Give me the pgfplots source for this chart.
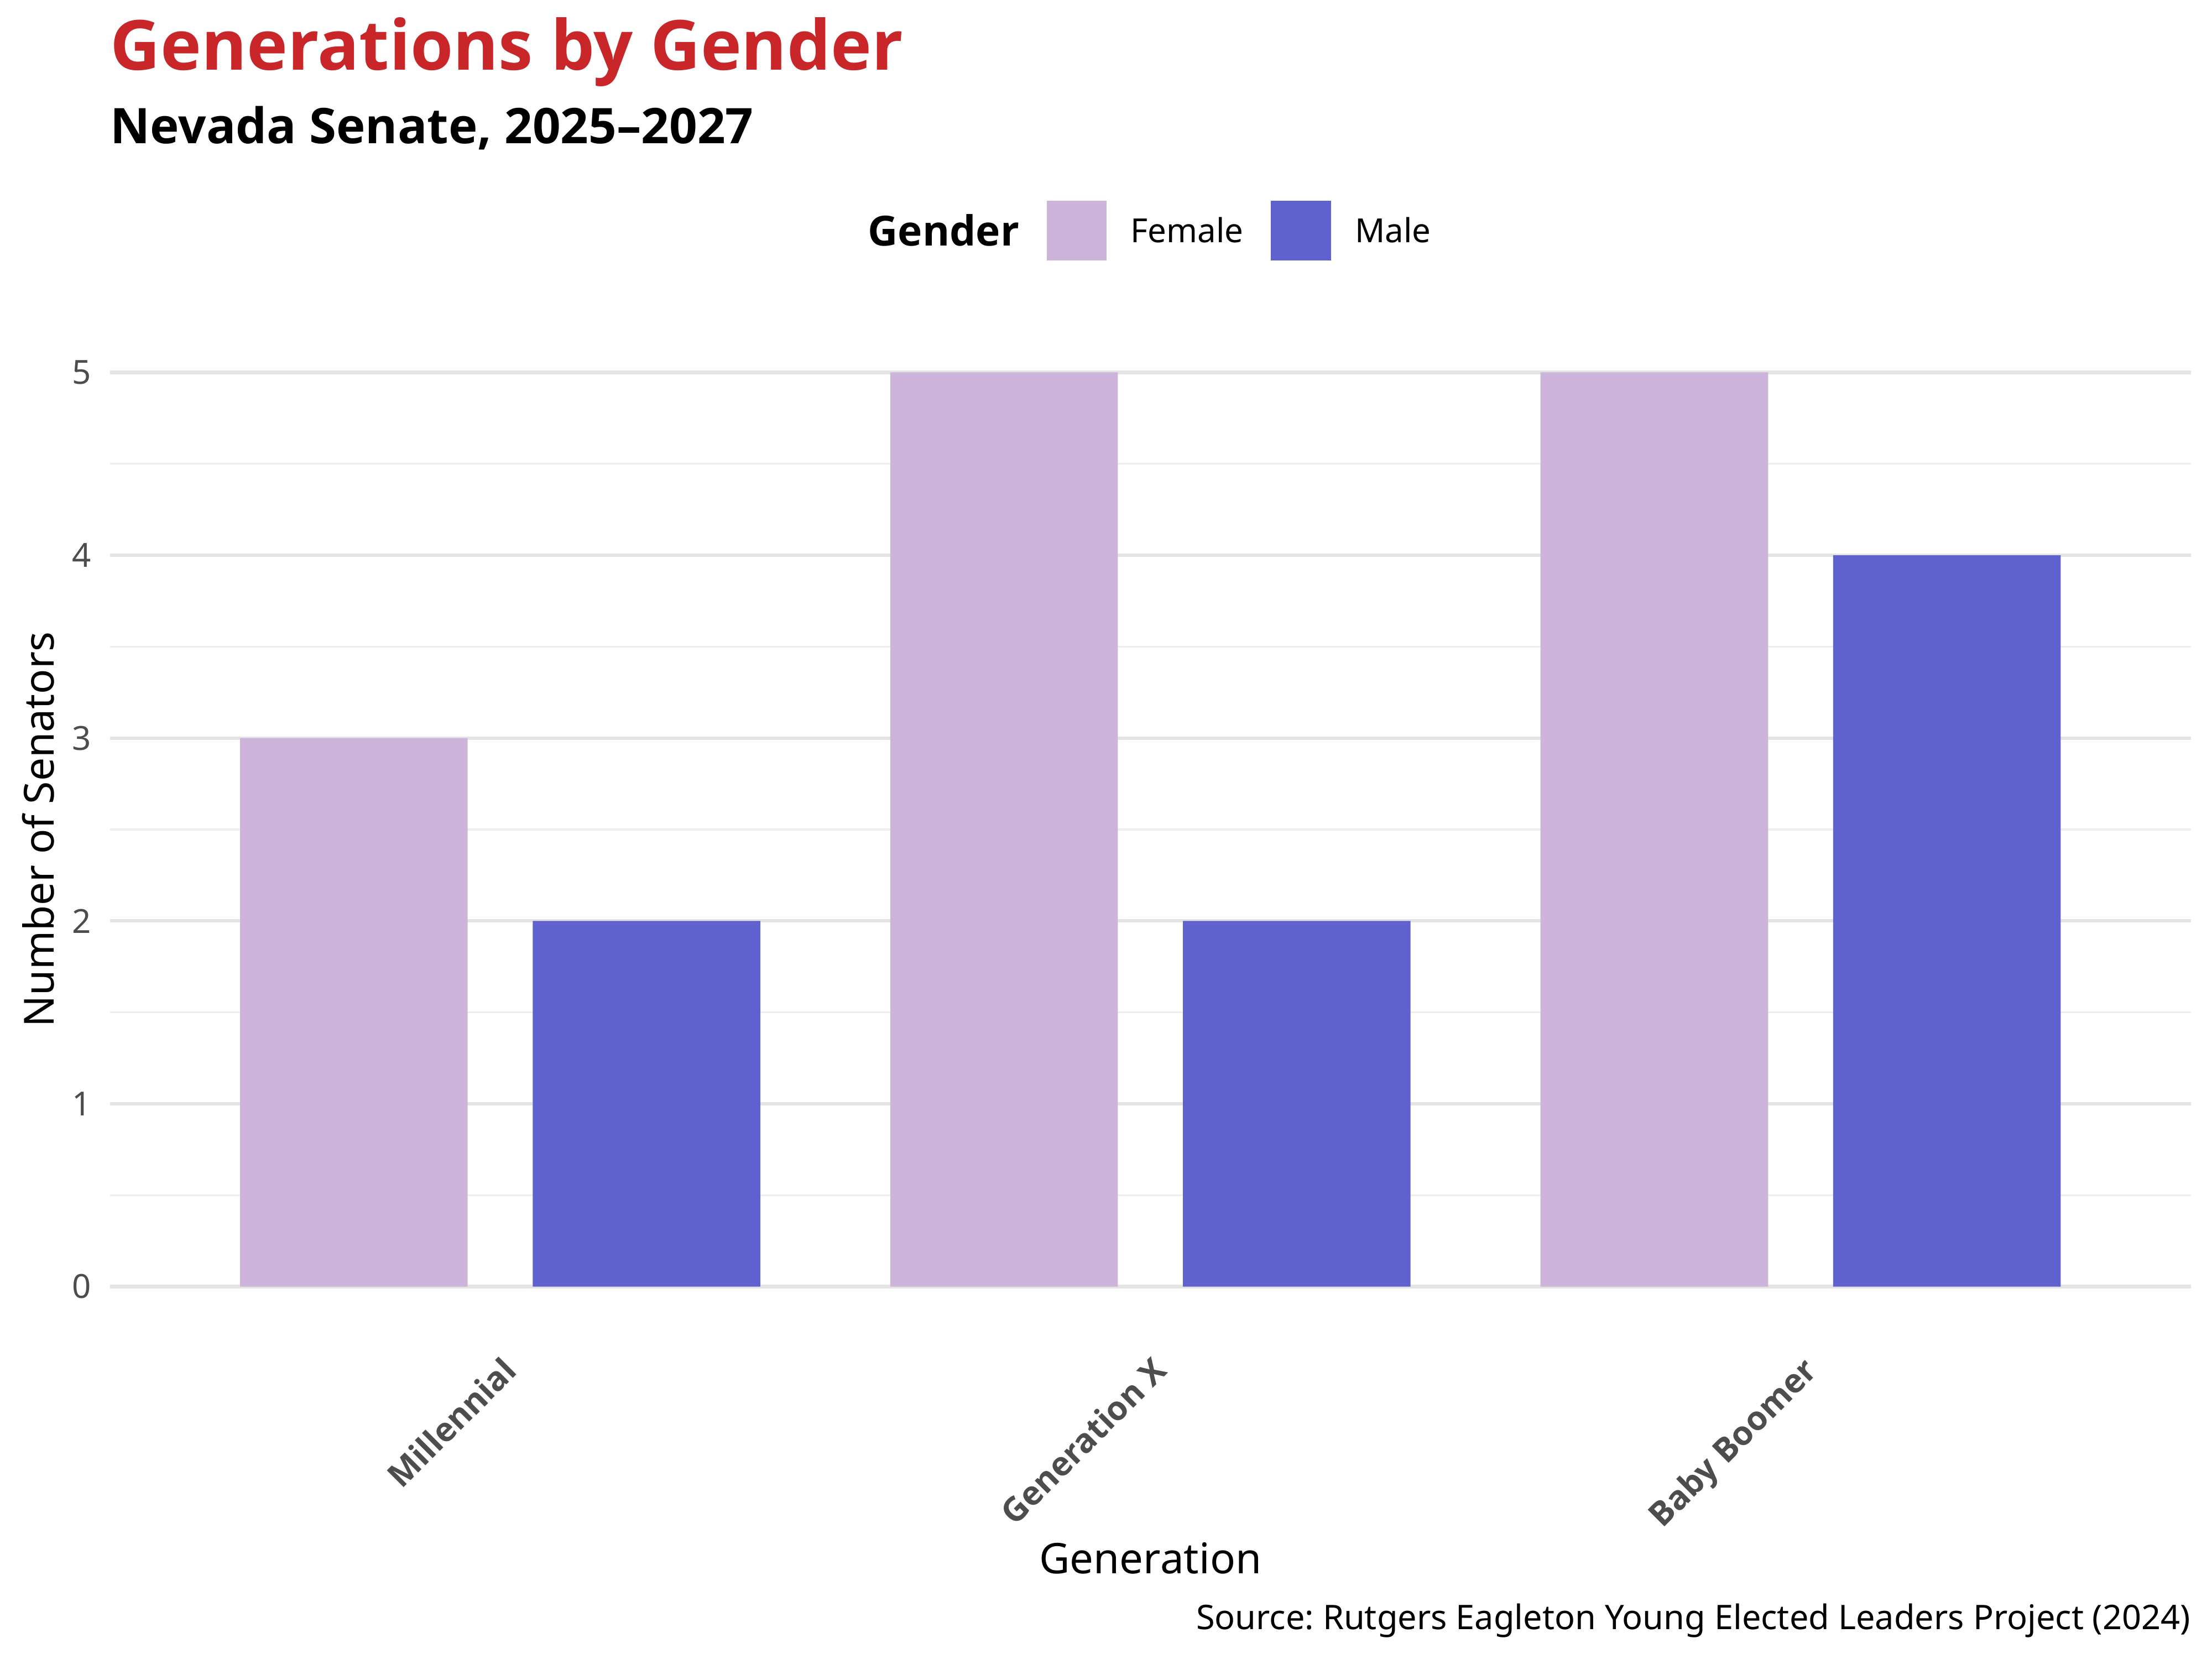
\documentclass[border=0pt]{standalone}
\usepackage{fontspec}
\setmainfont{Noto Sans}
\newfontfamily\headbold{Open Sans}[UprightFont={* Bold}]
\usepackage{pgfplots}
\pgfplotsset{compat=1.18}
\frenchspacing

\definecolor{female}{RGB}{205,180,219}
\definecolor{male}{RGB}{95,97,206}
\definecolor{titlered}{RGB}{200,38,41}
\definecolor{ticktext}{RGB}{77,77,77}
\definecolor{gridmaj}{RGB}{228,228,228}
\definecolor{gridmin}{RGB}{238,238,238}

\begin{document}
\begin{tikzpicture}
\useasboundingbox (0,0) rectangle (960bp,720bp);

\begin{axis}[
    at={(47.76bp,141.8bp)}, anchor=south west,
    scale only axis, width=903bp, height=436.4bp,
    ybar, bar width=0.35,
    xmin=0.4, xmax=3.6, ymin=-0.25, ymax=5.25,
    axis line style={draw=none},
    xtick={1,2,3},
    xticklabels={Millennial, Generation X, Baby Boomer},
    ytick={0,1,2,3,4,5},
    minor ytick={0.5,1.5,2.5,3.5,4.5},
    ymajorgrids, yminorgrids,
    major grid style={draw=gridmaj, line width=1.5bp},
    minor grid style={draw=gridmin, line width=0.75bp},
    major tick length=0pt, minor tick length=0pt,
    tick style={draw=none},
    /pgf/number format/assume math mode=true,
    yticklabel style={font=\fontsize{14.4bp}{17bp}\selectfont, text=ticktext,
        inner sep=0pt, xshift=-8bp},
    xticklabel style={xshift=0.2bp, yshift=-9.6bp, rotate=45, anchor=north east,
        inner sep=0pt, font=\fontsize{14.4bp}{17bp}\headbold, text=ticktext},
    xlabel={Generation},
    xlabel style={at={(axis description cs:0.5,-0.24015)}, anchor=base,
        inner sep=0pt, font=\fontsize{18.3bp}{22bp}\selectfont},
    ylabel={Number of Senators},
    ylabel style={at={(axis description cs:-0.02709,0.5)}, anchor=base,
        inner sep=0pt, font=\fontsize{18bp}{22bp}\selectfont},
    legend columns=-1,
    legend style={at={(axis description cs:0.4499,1.0956)}, anchor=west,
        draw=none, fill=none, inner sep=0pt,
        column sep=10.4bp,
        /tikz/every even column/.append style={column sep=12bp},
        nodes={inner sep=0pt},
        font=\fontsize{14.4bp}{17bp}\selectfont},
  ]
  % Female
  \addplot[fill=female, draw=none, bar shift=-0.225,
    legend image code/.code={\fill[female] (0bp,-12.5bp) rectangle (26bp,13.5bp);}]
    coordinates {(1,3) (2,5) (3,5)};
  % Male
  \addplot[fill=male, draw=none, bar shift=0.225,
    legend image code/.code={\fill[male] (0bp,-12.5bp) rectangle (26bp,13.5bp);}]
    coordinates {(1,2) (2,2) (3,4)};
  \legend{Female, Male}
\end{axis}

\node[anchor=base west, inner sep=0pt, text=titlered,
  font=\fontsize{30bp}{36bp}\headbold] at (47.76bp,689.6bp) {Generations by Gender};
\node[anchor=base west, inner sep=0pt,
  font=\fontsize{21.3bp}{25bp}\headbold] at (47.76bp,657.7bp) {Nevada Senate, 2025–2027};
\node[anchor=base west, inner sep=0pt,
  font=\fontsize{18bp}{22bp}\headbold] at (376.5bp,613.2bp) {Gender};
\node[anchor=base east, inner sep=0pt,
  font=\fontsize{14.7bp}{17bp}\selectfont] at (950.8bp,12.9bp) {Source: Rutgers Eagleton Young Elected Leaders Project (2024)};
\end{tikzpicture}
\end{document}
